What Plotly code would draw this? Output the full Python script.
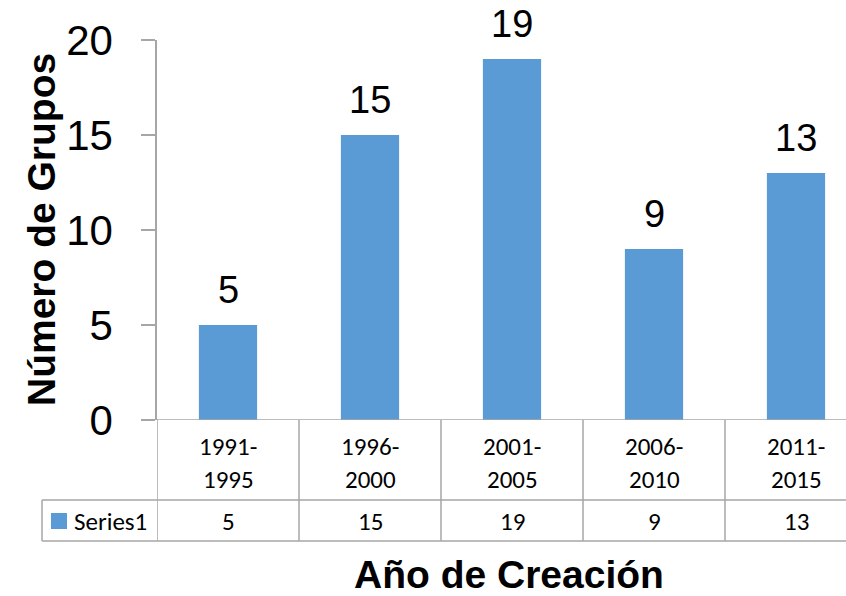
import plotly.graph_objects as go

categories_top = ["1991-", "1996-", "2001-", "2006-", "2011-"]
categories_bottom = ["1995", "2000", "2005", "2010", "2015"]
values = [5, 15, 19, 9, 13]
series_name = "Series1"
y_title = "Número de Grupos"
x_title = "Año de Creación"
y_ticks = [0, 5, 10, 15, 20]

W, H = 846, 596
NARROW = "Liberation Sans Narrow, Arial Narrow, Liberation Sans, Arial"
TABLE_FONT = "Carlito, Calibri, Lato, Open Sans, sans-serif"
GRID = "#a6a6a6"
BAR = "#5b9bd5"

def py(p):
    return (H - p) / H

def px(p):
    return p / W

xs = list(range(len(values)))
fig = go.Figure()
fig.add_trace(go.Bar(
    x=xs, y=values, width=0.41,
    marker=dict(color=BAR, line=dict(width=0)),
    showlegend=False, hoverinfo="skip",
))

x_left_px, x_right_px = 157, 846
cat_px = 142.0
xmax = -0.5 + (x_right_px - x_left_px) / cat_px

shapes = []
for i in range(len(values)):
    shapes.append(dict(type="line", xref="x", yref="paper", x0=i - 0.5, x1=i - 0.5,
                       y0=py(420), y1=py(541), line=dict(color=GRID, width=1.5)))
for yy in (500, 541):
    shapes.append(dict(type="line", xref="paper", yref="paper", x0=px(42), x1=1,
                       y0=py(yy), y1=py(yy), line=dict(color=GRID, width=1.5)))
shapes.append(dict(type="line", xref="paper", yref="paper", x0=px(42), x1=px(42),
                   y0=py(500), y1=py(541), line=dict(color=GRID, width=1.5)))
shapes.append(dict(type="rect", xref="paper", yref="paper", x0=px(51), x1=px(67),
                   y0=py(513), y1=py(529), fillcolor=BAR, line=dict(width=0)))
shapes.append(dict(type="line", xref="paper", yref="y", x0=px(143), x1=1, y0=0, y1=0,
                   line=dict(color=GRID, width=1.5)))

tf = dict(family=TABLE_FONT, size=25, color="black")
annotations = []
for i, (a, b, v) in enumerate(zip(categories_top, categories_bottom, values)):
    annotations.append(dict(x=i, y=py(446), xref="x", yref="paper", text=a, showarrow=False,
                            font=tf, xanchor="center", yanchor="middle"))
    annotations.append(dict(x=i, y=py(480), xref="x", yref="paper", text=b, showarrow=False,
                            font=tf, xanchor="center", yanchor="middle"))
    annotations.append(dict(x=i, y=py(521), xref="x", yref="paper", text=str(v), showarrow=False,
                            font=tf, xanchor="center", yanchor="middle"))
    annotations.append(dict(x=i, y=v, xref="x", yref="y", text=str(v), showarrow=False,
                            font=dict(family=NARROW, size=38, color="black"),
                            xanchor="center", yanchor="bottom", yshift=12))
annotations.append(dict(x=px(41), y=py(230), xref="paper", yref="paper", text="<b>" + y_title + "</b>",
                        showarrow=False, textangle=-90, font=dict(family=NARROW, size=39, color="black"),
                        xanchor="center", yanchor="middle"))
annotations.append(dict(x=px(509), y=py(574), xref="paper", yref="paper", text="<b>" + x_title + "</b>",
                        showarrow=False, font=dict(family=NARROW, size=39, color="black"),
                        xanchor="center", yanchor="middle"))
annotations.append(dict(x=px(72), y=py(521), xref="paper", yref="paper", text=series_name,
                        showarrow=False, font=tf, xanchor="left", yanchor="middle"))

fig.update_layout(
    width=W, height=H,
    margin=dict(l=0, r=0, t=0, b=0, pad=0, autoexpand=False),
    paper_bgcolor="white", plot_bgcolor="white",
    xaxis=dict(domain=[px(x_left_px), 1], range=[-0.5, xmax], showticklabels=False,
               showgrid=False, zeroline=False, showline=False, fixedrange=True, automargin=False),
    yaxis=dict(domain=[py(420), py(40)], range=[0, 20], tickvals=y_ticks, automargin=False,
               showgrid=False, zeroline=False, showline=True, linecolor=GRID, linewidth=1.5,
               ticks="outside", ticklen=14, tickcolor=GRID, tickwidth=1.5,
               ticklabelstandoff=20,
               tickfont=dict(family=NARROW, size=42, color="black")),
    shapes=shapes,
    annotations=annotations,
)

fig.write_html("out.html", config={"displayModeBar": False},
               post_script="document.body.style.margin='0';")
